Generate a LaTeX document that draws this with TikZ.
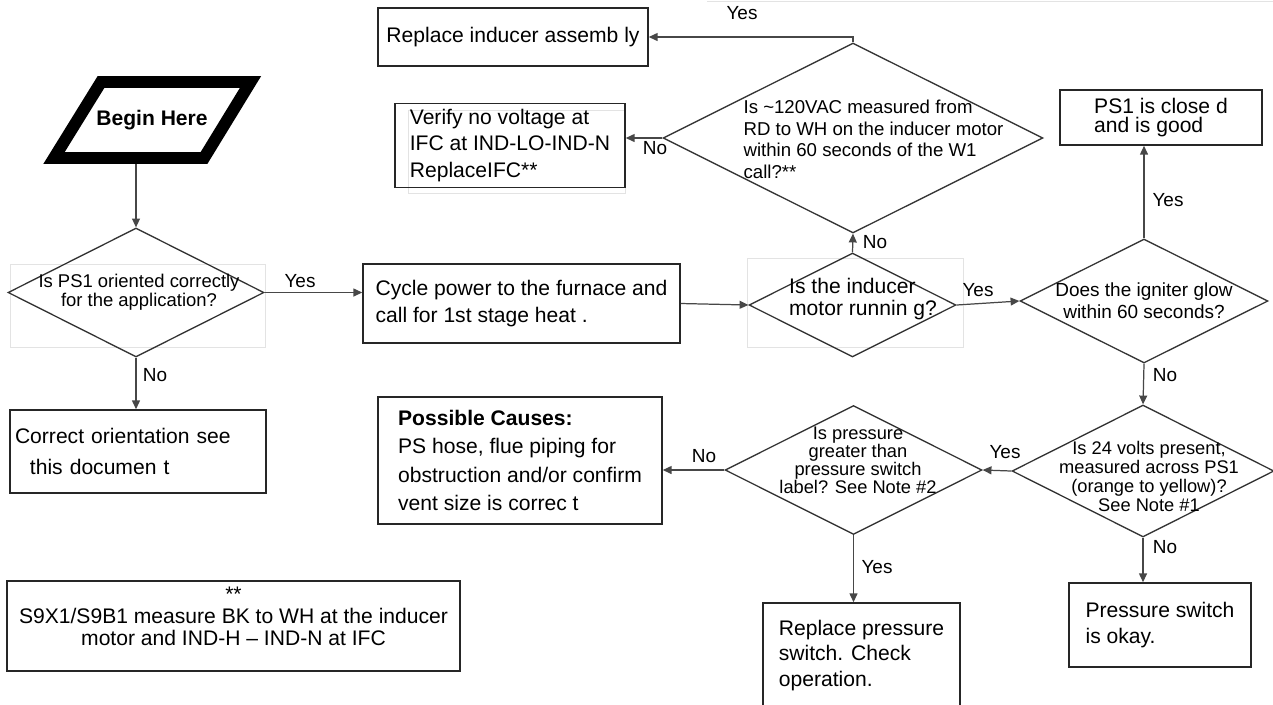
\documentclass[tikz,border=0pt]{standalone}
\usepackage{fontspec}
\setmainfont{Liberation Sans}
\usepackage{tikz}
\usetikzlibrary{arrows.meta, shapes.geometric, positioning}

\begin{document}
\begin{tikzpicture}[
    x=0.02cm, y=-0.02cm,
    box/.style={draw=black!85, line width=0.9pt, align=left, font=\fontsize{12}{15}\selectfont},
    dia/.style={diamond, draw=black!80, line width=0.75pt, inner sep=0pt},
    qtext/.style={align=center, inner sep=0pt},
    lbl/.style={font=\fontsize{10.8}{12}\selectfont, inner sep=0pt},
    startframe/.style={draw=black, line width=6.8pt, line join=miter},
    ghost/.style={draw=gray!22, line width=0.5pt},
    arrow/.style={-{Triangle[length=5pt, width=4.5pt]}, line width=0.7pt, black!72}
]
\fill[white] (0,0) rectangle (1273,704);
\useasboundingbox (0,0) rectangle (1273,704);

% faint frames behind some shapes
\draw[ghost] (707,1) -- (1273,1);
\draw[ghost] (10,264) rectangle (265,347);
\draw[ghost] (747,258) rectangle (963,347);
\draw[ghost] (408,110) rectangle (625,193);

% start and questions
\draw[startframe] (54,158) -- (101,82) -- (250.5,82) -- (204,158) -- cycle;
\node[minimum width=2.6cm, minimum height=1.76cm, font=\bfseries\fontsize{12}{14}\selectfont] (begin) at (152,120) {Begin Here};

\node[dia, minimum width=5.12cm, minimum height=2.58cm] (ps1q) at (136,292.5) {};
\node[qtext, font=\fontsize{10.5}{10.8}\selectfont] (ps1qt) at (139,292.5)
    {Is PS1 oriented correctly\\for the application?};

\node[dia, minimum width=4.14cm, minimum height=2.08cm] (runq) at (852.5,305) {};
\node[qtext, align=left, font=\fontsize{12}{12.5}\selectfont] (runqt) at (863,299)
    {Is the inducer\\motor runnin g?};

\node[dia, minimum width=7.6cm, minimum height=3.8cm] (voltq) at (853,138) {};
\node[qtext, align=left, font=\fontsize{10.6}{12.3}\selectfont] (voltqt) at (873.5,139.5)
    {Is \textasciitilde120VAC measured from\\RD to WH on the inducer motor\\within 60 seconds of the W1\\call?**};

\node[dia, minimum width=4.96cm, minimum height=2.48cm] (glowq) at (1144,301) {};
\node[qtext, font=\fontsize{10.8}{12.5}\selectfont] (glowqt) at (1144,301)
    {Does the igniter glow\\within 60 seconds?};

\node[dia, minimum width=5.24cm, minimum height=2.64cm] (v24q) at (1143,471) {};
\node[qtext, font=\fontsize{10.4}{10.8}\selectfont] (v24qt) at (1149,476.5)
    {Is 24 volts present,\\measured across PS1\\(orange to yellow)?\\See Note \#1};

\node[dia, minimum width=5.14cm, minimum height=2.58cm] (presq) at (853.5,470) {};
\node[qtext, font=\fontsize{10.4}{10.2}\selectfont] (presqt) at (858,460)
    {Is pressure\\greater than\\pressure switch\\label? See Note \#2};

% action boxes
\node[box, minimum width=6.34cm, minimum height=1.58cm, font=\fontsize{12}{15.3}\selectfont] (cycle) at (521.5,303.5)
    {Cycle power to the furnace and\\call for 1st stage heat .};
\node[box, minimum width=5.4cm, minimum height=1.16cm] (repl) at (513,37) {Replace inducer assemb ly};
\node[box, minimum width=4.6cm, minimum height=1.66cm] (verify) at (510,145.5)
    {Verify no voltage at\\IFC at IND-LO-IND-N\\ReplaceIFC**};
\node[box, minimum width=4.04cm, minimum height=1.1cm, font=\fontsize{12}{10.8}\selectfont] (ps1ok) at (1161,117.5)
    {PS1 is close d\\and is good};
\node[box, text width=4.92cm, inner xsep=0.1cm, minimum height=1.66cm, font=\fontsize{12}{17.6}\selectfont] (correct) at (138,451.5)
    {Correct orientation see\\\hspace*{8.5pt}this documen t};
\node[box, minimum width=5.68cm, minimum height=2.54cm, font=\fontsize{12}{16}\selectfont] (causes) at (520,460.5)
    {\textbf{Possible Causes:}\\PS hose, flue piping for\\obstruction and/or confirm\\vent size is correc t};
\node[box, minimum width=3.94cm, minimum height=2.1cm, font=\fontsize{12}{14.7}\selectfont] (replps) at (861.5,655.5)
    {Replace pressure\\switch. Check\\operation.};
\node[box, minimum width=3.64cm, minimum height=1.68cm, font=\fontsize{12}{15.3}\selectfont] (psok) at (1160,625)
    {Pressure switch\\is okay.};
\node[box, align=center, line width=1.3pt, minimum width=9.06cm, minimum height=1.76cm, font=\fontsize{12}{12.5}\selectfont] (note) at (233.5,626)
    {**\\S9X1/S9B1 measure BK to WH at the inducer\\motor and IND-H -- IND-N at IFC\\[-5pt]\strut};

% branch labels
\node[lbl] (yes1) at (300,281) {Yes};
\node[lbl] (no1)  at (155,375) {No};
\node[lbl] (no2)  at (875,242) {No};
\node[lbl] (yes2) at (742,13)  {Yes};
\node[lbl] (no3)  at (655,148) {No};
\node[lbl] (yes3) at (978,290) {Yes};
\node[lbl] (yes4) at (1168,200) {Yes};
\node[lbl] (no4)  at (1165,375) {No};
\node[lbl] (yes5) at (1005,452) {Yes};
\node[lbl] (no5)  at (704,456) {No};
\node[lbl] (yes6) at (877,567) {Yes};
\node[lbl] (no6)  at (1165,547) {No};

% connectors
\draw[arrow] (begin.south -| ps1q.north) -- (ps1q.north);
\draw[arrow] (ps1q.east)   -- (ps1q.east -| cycle.west);
\draw[arrow] (ps1q.south)  -- (ps1q.south |- correct.north);
\draw[arrow] (cycle.east)  -- (runq.west);
\draw[arrow] (runq.north)  -- (voltq.south);
\draw[arrow] (voltq.west)  -- (voltq.west -| verify.east);
\draw[arrow] (voltq.north) |- (repl.east);
\draw[arrow] (runq.east)   -- (glowq.west);
\draw[arrow] (glowq.north) -- (glowq.north |- ps1ok.south);
\draw[arrow] (glowq.south) -- (v24q.north);
\draw[arrow] (v24q.west)   -- (presq.east);
\draw[arrow] (presq.west)  -- (presq.west -| causes.east);
\draw[arrow] (presq.south) -- (presq.south |- replps.north);
\draw[arrow] (v24q.south)  -- (v24q.south |- psok.north);
\end{tikzpicture}
\end{document}
